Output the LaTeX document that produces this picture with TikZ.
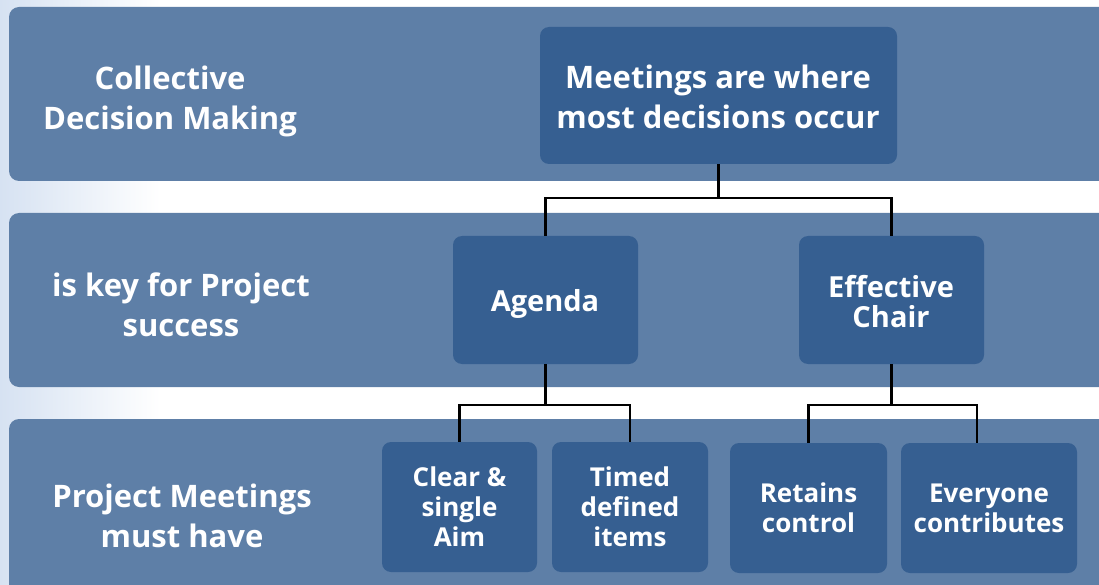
\documentclass[tikz,border=0pt]{standalone}
\usepackage{fontspec}
\setmainfont{Open Sans}[Ligatures=NoCommon]
\usetikzlibrary{calc}
\definecolor{bandc}{RGB}{94,127,167}
\definecolor{boxc}{RGB}{54,95,145}
\definecolor{glow}{RGB}{214,226,242}
\begin{document}
\begin{tikzpicture}[x=1pt,y=-1pt,
  band/.style={fill=bandc,rounded corners=10pt,inner sep=0pt},
  boxn/.style={fill=boxc,rounded corners=9pt,inner sep=0pt,text=white,align=center},
  bigtxt/.style={text=white,align=center,font={\fontsize{31}{40}\selectfont\bfseries}},
  midtxt/.style={font={\fontsize{29}{30}\selectfont\bfseries}},
  smtxt/.style={font={\fontsize{26}{30}\selectfont\bfseries}},
  conn/.style={draw=black,line width=2.2pt}]
\useasboundingbox (0,0) rectangle (1099,585);
\clip (0,0) rectangle (1099,585);
\shade[left color=glow,right color=white] (0,0) rectangle (160,585);
% bands
\node[band,minimum width=1110pt,minimum height=174pt] (b1) at (564,94) {};
\node[band,minimum width=1110pt,minimum height=174pt] (b2) at (564,300) {};
\node[band,minimum width=1110pt,minimum height=190pt] (b3) at (564,514) {};
% left labels
\node[bigtxt] (l1) at (170,101) {Collective\\Decision Making};
\node[bigtxt] (l2) at (181,305) {is key for Project\\success};
\node[bigtxt] (l3) at (182,516) {Project Meetings\\must have};
% boxes
\node[boxn,minimum width=357pt,minimum height=137pt] (top) at (718.5,95.5) {};
\node[bigtxt] (toptxt) at (718,97) {Meetings are where\\most decisions occur};
\node[boxn,minimum width=185pt,minimum height=128pt] (agenda) at (545.5,300) {};
\node[midtxt,text=white] (agendatxt) at (545,304) {Agenda};
\node[boxn,minimum width=185pt,minimum height=128pt] (chair) at (891.5,300) {};
\node[midtxt,text=white,align=center] (chairtxt) at (891,302) {Effective\\Chair};
\node[boxn,minimum width=155pt,minimum height=130pt,smtxt] (aim) at (459.5,507) {Clear \&\\single\\Aim};
\node[boxn,minimum width=156pt,minimum height=130pt,smtxt] (timed) at (630,507) {Timed\\defined\\items};
\node[boxn,minimum width=157pt,minimum height=130pt,smtxt] (retains) at (808.5,508) {Retains\\control};
\node[boxn,minimum width=176pt,minimum height=130pt,smtxt] (everyone) at (989,508) {Everyone\\contributes};
% connectors
\coordinate (j1) at ($(top.south)+(0,34)$);
\draw[conn] (top.south) -- (j1) -| (agenda.north);
\draw[conn] (j1) -| (chair.north);
\coordinate (j2) at ($(agenda.south)+(0,41)$);
\draw[conn] (agenda.south) -- (j2) -| (aim.north);
\draw[conn] (j2) -| (timed.north);
\coordinate (j3) at ($(chair.south)+(0,41)$);
\coordinate (e3) at ($(everyone.north)+(-12,0)$);
\draw[conn] (chair.south) -- (j3) -| (retains.north);
\draw[conn] (j3) -| (e3);
\end{tikzpicture}
\end{document}
